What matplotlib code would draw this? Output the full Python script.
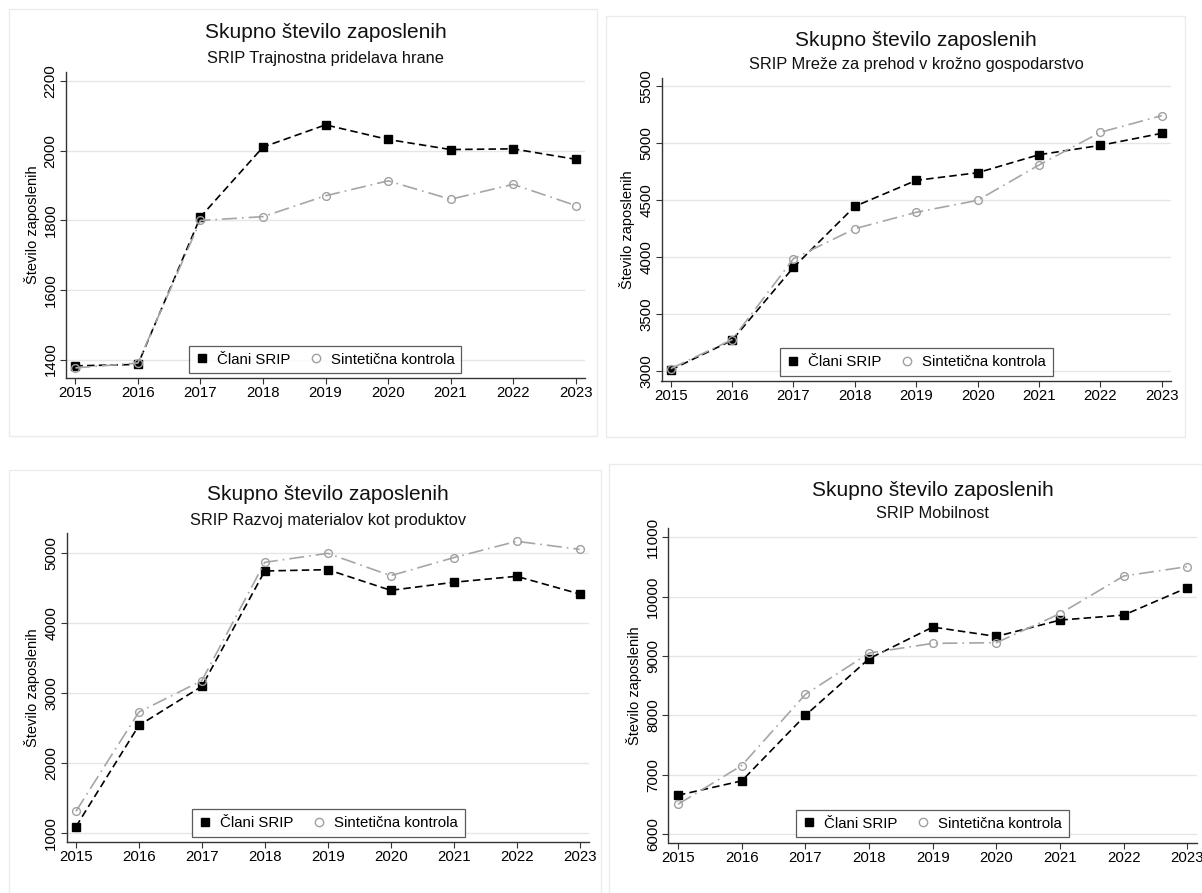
import matplotlib.pyplot as plt
from matplotlib.lines import Line2D
from matplotlib.patches import Rectangle

plt.rcParams['font.family'] = ['Liberation Sans', 'DejaVu Sans']

W, H = 1202, 893

years = [2015, 2016, 2017, 2018, 2019, 2020, 2021, 2022, 2023]

title = 'Skupno število zaposlenih'
ylabel = 'Število zaposlenih'
legend_labels = ['Člani SRIP', 'Sintetična kontrola']

# SRIP Trajnostna pridelava hrane
sub_1 = 'SRIP Trajnostna pridelava hrane'
srip_1 = [1382, 1386, 1810, 2011, 2075, 2033, 2004, 2006, 1976]
synth_1 = [1376, 1390, 1800, 1811, 1871, 1914, 1861, 1904, 1843]
yticks_1 = [1400, 1600, 1800, 2000, 2200]

# SRIP Mreže za prehod v krožno gospodarstvo
sub_2 = 'SRIP Mreže za prehod v krožno gospodarstvo'
srip_2 = [3012, 3272, 3912, 4447, 4675, 4742, 4900, 4982, 5088]
synth_2 = [3023, 3278, 3988, 4251, 4395, 4500, 4810, 5097, 5243]
yticks_2 = [3000, 3500, 4000, 4500, 5000, 5500]

# SRIP Razvoj materialov kot produktov
sub_3 = 'SRIP Razvoj materialov kot produktov'
srip_3 = [1086, 2535, 3095, 4747, 4766, 4470, 4585, 4671, 4418]
synth_3 = [1305, 2727, 3177, 4871, 5000, 4680, 4938, 5172, 5057]
yticks_3 = [1000, 2000, 3000, 4000, 5000]

# SRIP Mobilnost
sub_4 = 'SRIP Mobilnost'
srip_4 = [6653, 6895, 8000, 8955, 9488, 9330, 9606, 9690, 10152]
synth_4 = [6501, 7154, 8353, 9050, 9213, 9225, 9715, 10349, 10507]
yticks_4 = [6000, 7000, 8000, 9000, 10000, 11000]


def fig_rect(left, top, right, bottom):
    return [left / W, 1 - bottom / H, (right - left) / W, (bottom - top) / H]


def draw_panel(fig, frame, axbox, title_y, sub_y, legbox, subtitle,
               srip, synth, yticks, ylim, xlim):
    # svetel okvir okoli grafa
    fl, ft, fr, fb = frame
    fig.patches.append(Rectangle((fl / W, 1 - fb / H), (fr - fl) / W, (fb - ft) / H,
                                 transform=fig.transFigure, fill=False,
                                 edgecolor='#ebebeb', linewidth=1.0))
    ax = fig.add_axes(fig_rect(*axbox))
    cx = (axbox[0] + axbox[2]) / 2 / W
    fig.text(cx, 1 - title_y / H, title, ha='center', va='center', fontsize=15, color='#111111')
    fig.text(cx, 1 - sub_y / H, subtitle, ha='center', va='center', fontsize=11.8, color='#111111')

    for t in yticks:
        if t < ylim[1] - 1:
            ax.axhline(t, color='#e6e6e6', linewidth=1.0, zorder=0)

    ax.plot(years, srip, color='black', linestyle=(0, (4.5, 2.5)), linewidth=1.2,
            marker='s', markersize=5.6, markerfacecolor='black', markeredgecolor='black', zorder=3)
    ax.plot(years, synth, color='#a6a6a6', linestyle=(0, (9, 3, 1, 3)), linewidth=1.2,
            marker='o', markersize=5.6, markerfacecolor='none', markeredgecolor='#a0a0a0',
            markeredgewidth=1.0, zorder=4)

    ax.set_xlim(*xlim)
    ax.set_ylim(*ylim)
    ax.set_xticks(years)
    ax.set_xticklabels([str(y) for y in years], fontsize=10.8)
    ax.set_yticks(yticks)
    ax.set_yticklabels([str(t) for t in yticks], fontsize=10.8, rotation=90, va='center')
    ax.set_ylabel(ylabel, fontsize=10.5, labelpad=3)
    for s in ['top', 'right']:
        ax.spines[s].set_visible(False)
    for s in ['left', 'bottom']:
        ax.spines[s].set_color('#333333')
        ax.spines[s].set_linewidth(1.0)
    ax.tick_params(axis='both', length=4, width=0.8, color='#333333', pad=2)

    # legenda: samo oznake, v okvirju
    handles = [Line2D([], [], linestyle='none', marker='s', markersize=6, color='black'),
               Line2D([], [], linestyle='none', marker='o', markersize=6,
                      markerfacecolor='none', markeredgecolor='#a0a0a0')]
    lx = (legbox[0] + legbox[2]) / 2 / W
    ly = 1 - (legbox[1] + legbox[3]) / 2 / H
    leg = fig.legend(handles, legend_labels, loc='center', bbox_to_anchor=(lx, ly),
                     ncol=2, fontsize=10.8, frameon=True, fancybox=False,
                     edgecolor='#333333', borderpad=0.45, handlelength=0.8,
                     handletextpad=0.6, columnspacing=1.3)
    leg.get_frame().set_linewidth(0.9)
    return ax


fig = plt.figure(figsize=(W / 100, H / 100), dpi=100)
fig.patch.set_facecolor('white')

draw_panel(fig, (8.5, 9, 597, 436), (66, 72, 585, 378), 33, 58, (192, 346, 458, 373),
           sub_1, srip_1, synth_1, yticks_1, (1347, 2227), (2014.85, 2023.15))
draw_panel(fig, (606, 16, 1185, 437), (661.5, 78, 1171, 381), 41, 65, (786, 349, 1047, 375),
           sub_2, srip_2, synth_2, yticks_2, (2915, 5573), (2014.85, 2023.15))
draw_panel(fig, (8.5, 470, 601, 900), (66.5, 533, 589, 842), 495, 520, (194, 809, 463, 837),
           sub_3, srip_3, synth_3, yticks_3, (866, 5291), (2014.85, 2023.15))
draw_panel(fig, (609, 464, 1210, 900), (668.5, 528, 1197, 843), 490, 514, (797, 810, 1068, 837),
           sub_4, srip_4, synth_4, yticks_4, (5848, 11158), (2014.85, 2023.15))

fig.savefig('out.png', dpi=100, facecolor='white')
